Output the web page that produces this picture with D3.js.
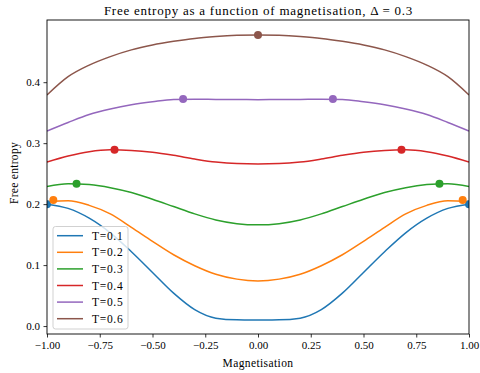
<!DOCTYPE html>
<html>
<head>
<meta charset="utf-8">
<script src="https://cdn.jsdelivr.net/npm/d3@7"></script>
<style>
  html, body { margin: 0; padding: 0; background: #fff; }
  svg { display: block; }
  text { font-family: "Liberation Serif", "DejaVu Serif", serif; fill: #000; }
</style>
</head>
<body>
<svg id="chart" width="480" height="373"></svg>
<script>
// ---- data ----
const magnetisation = [-1, -0.9, -0.8, -0.7, -0.6, -0.5, -0.4, -0.3, -0.2, -0.1, 0, 0.1, 0.2, 0.3, 0.4, 0.5, 0.6, 0.7, 0.8, 0.9, 1];
const temperatures = ["T=0.1", "T=0.2", "T=0.3", "T=0.4", "T=0.5", "T=0.6"];
const freeT01 = [0.200, 0.193, 0.177, 0.153, 0.122, 0.088, 0.054, 0.027, 0.013, 0.0102, 0.010, 0.0102, 0.013, 0.027, 0.054, 0.088, 0.122, 0.153, 0.177, 0.193, 0.200];
const freeT02 = [0.2045, 0.2055, 0.198, 0.184, 0.162, 0.139, 0.117, 0.099, 0.085, 0.077, 0.074, 0.077, 0.085, 0.099, 0.117, 0.139, 0.162, 0.184, 0.198, 0.2055, 0.2045];
const freeT03 = [0.229, 0.2335, 0.232, 0.227, 0.219, 0.208, 0.196, 0.184, 0.174, 0.168, 0.166, 0.168, 0.174, 0.184, 0.196, 0.208, 0.219, 0.227, 0.232, 0.2335, 0.229];
const freeT04 = [0.269, 0.279, 0.286, 0.289, 0.288, 0.285, 0.280, 0.274, 0.269, 0.2665, 0.266, 0.2665, 0.269, 0.274, 0.280, 0.285, 0.288, 0.289, 0.286, 0.279, 0.269];
const freeT05 = [0.320, 0.334, 0.347, 0.356, 0.363, 0.368, 0.3718, 0.3722, 0.3718, 0.3715, 0.3714, 0.3715, 0.3718, 0.3722, 0.3718, 0.368, 0.363, 0.356, 0.347, 0.334, 0.320];
const freeT06 = [0.379, 0.409, 0.428, 0.442, 0.453, 0.461, 0.467, 0.4718, 0.4748, 0.4768, 0.4775, 0.4768, 0.4748, 0.4718, 0.467, 0.461, 0.453, 0.442, 0.428, 0.409, 0.379];
const peakM = [[-1, 1], [-0.97, 0.97], [-0.86, 0.86], [-0.68, 0.68], [-0.355, 0.355], [0]];
const peakV = [0.200, 0.2066, 0.2335, 0.289, 0.3723, 0.4775];
const xTicks = [-1, -0.75, -0.5, -0.25, 0, 0.25, 0.5, 0.75, 1];
const yTicks = [0, 0.1, 0.2, 0.3, 0.4];
const colors = ["#1f77b4", "#ff7f0e", "#2ca02c", "#d62728", "#9467bd", "#8c564b"];

const seriesValues = [freeT01, freeT02, freeT03, freeT04, freeT05, freeT06];

// ---- layout ----
const svg = d3.select("#chart");
const L = 47, R = 469, T = 20, B = 334;
const x = d3.scaleLinear().domain([-1, 1]).range([L, R]);
const y = d3.scaleLinear().domain([-0.013, 0.502]).range([B, T]);

svg.append("defs").append("clipPath").attr("id", "clip")
  .append("rect").attr("x", L).attr("y", T).attr("width", R - L).attr("height", B - T);

const plot = svg.append("g").attr("clip-path", "url(#clip)");
const line = d3.line().x(d => x(d[0])).y(d => y(d[1])).curve(d3.curveMonotoneX);

seriesValues.forEach((vals, i) => {
  const pts = magnetisation.map((m, j) => [m, vals[j]]);
  plot.append("path").attr("d", line(pts))
    .attr("fill", "none").attr("stroke", colors[i]).attr("stroke-width", 1.5);
});
seriesValues.forEach((vals, i) => {
  peakM[i].forEach(m => {
    plot.append("circle").attr("cx", x(m)).attr("cy", y(peakV[i])).attr("r", 4)
      .attr("fill", colors[i]);
  });
});

// ---- axes ----
const fmtX = v => (v < 0 ? "\u2212" : "") + Math.abs(v).toFixed(2);
const fmtY = v => v.toFixed(1);
const xAxis = svg.append("g").attr("transform", `translate(0,${B})`)
  .call(d3.axisBottom(x).tickValues(xTicks).tickFormat(fmtX).tickSize(3.5).tickPadding(3.5));
const yAxis = svg.append("g").attr("transform", `translate(${L},0)`)
  .call(d3.axisLeft(y).tickValues(yTicks).tickFormat(fmtY).tickSize(3.5).tickPadding(3.5));
[xAxis, yAxis].forEach(a => {
  a.select(".domain").remove();
  a.selectAll("line").attr("stroke", "#000").attr("stroke-width", 0.8);
  a.selectAll("text").attr("font-family", "Liberation Serif, serif").attr("font-size", 11).attr("fill", "#000");
});

svg.append("rect").attr("x", L).attr("y", T).attr("width", R - L).attr("height", B - T)
  .attr("fill", "none").attr("stroke", "#000").attr("stroke-width", 0.9);

// ---- labels ----
svg.append("text").attr("x", (L + R) / 2 + 0.5).attr("y", 15).attr("text-anchor", "middle")
  .attr("font-size", 13).attr("letter-spacing", 0.75)
  .text("Free entropy as a function of magnetisation, \u0394 = 0.3");
svg.append("text").attr("x", (L + R) / 2).attr("y", 367).attr("text-anchor", "middle")
  .attr("font-size", 11.5).attr("letter-spacing", 0.4).text("Magnetisation");
svg.append("text").attr("transform", "translate(18,173) rotate(-90)").attr("text-anchor", "middle")
  .attr("font-size", 11.5).attr("letter-spacing", 0.3).text("Free entropy");

// ---- legend ----
const leg = svg.append("g");
leg.append("rect").attr("x", 53).attr("y", 226.5).attr("width", 75).attr("height", 102.5)
  .attr("rx", 2.5).attr("fill", "#fff").attr("fill-opacity", 0.8)
  .attr("stroke", "#cccccc").attr("stroke-width", 0.9);
temperatures.forEach((t, i) => {
  const yy = 235.7 + i * 16.6;
  leg.append("line").attr("x1", 57).attr("x2", 83).attr("y1", yy).attr("y2", yy)
    .attr("stroke", colors[i]).attr("stroke-width", 1.5);
  leg.append("text").attr("x", 92).attr("y", yy + 4).attr("font-size", 11.5)
    .attr("letter-spacing", 0.7).text(t);
});
</script>
</body>
</html>
